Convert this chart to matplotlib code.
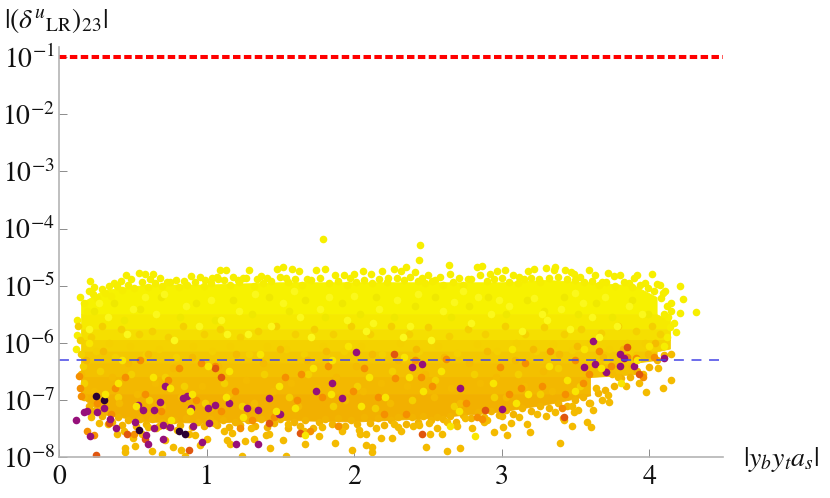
import numpy as np
import matplotlib
matplotlib.use("Agg")
import matplotlib.pyplot as plt

plt.rcParams['font.family'] = ['STIXGeneral', 'DejaVu Serif']
plt.rcParams['mathtext.fontset'] = 'stix'

# Cloud outline (log10 of the y value)
body_x = [0.15, 0.3, 0.6, 1.0, 1.5, 2.0, 2.5, 3.0, 3.3, 3.6, 3.9, 4.05, 4.14]
body_top = [-5.3, -5.08, -4.98, -4.98, -4.94, -4.94, -4.94, -4.94, -4.9, -4.94, -5.0, -5.2, -5.6]
body_bottom = [-6.95, -7.25, -7.38, -7.4, -7.35, -7.38, -7.32, -7.2, -7.08, -6.92, -6.55, -6.3, -6.1]
band_levels = [-4.5, -5.5, -5.75, -5.95, -6.15, -6.35, -6.6, -6.9, -7.5]
band_colors = ['#f7f200', '#f6ea00', '#f5df00', '#f4d200', '#f3c800', '#f3c000', '#f3b800', '#f2b000']

# Points along the top of the cloud
top_x = [.21,.14,.2,.24,.29,.42,.455,.49,.54,.585,.635,.685,.79,.845,.894,.957,1.036,1.088,1.133,1.18,1.29,1.25,1.34,1.477,1.41,
         1.516,1.58,1.627,1.74,1.8,1.87,1.93,2.0,2.06,2.113,2.19,2.27,2.32,2.355,2.41,2.5,2.58,2.65,2.71,2.83,2.87,2.92,2.97,3.02,3.08,3.18,3.216,3.3,3.356,
         3.36,3.43,3.47,3.49,3.59,3.63,3.68,3.72,3.8,3.86,3.92,3.97,4.02,4.05,4.11,4.21,4.23,4.21,4.32,4.18,4.15,4.13,4.17,.125,.12,.115,
         1.79,2.447,2.44,2.64,.34,.37,.62,.73,.99,1.07,1.21,1.37,1.54,1.68,1.97,2.23,2.46,2.55,2.77,3.12,3.25,3.53,3.76,3.9,4.07,4.09]
top_y = [-4.92,-5.2,-5.1,-5.03,-5.05,-4.92,-4.82,-4.89,-4.78,-4.8,-4.8,-4.87,-4.9,-4.92,-4.83,-4.85,-4.87,-4.73,-4.72,-4.85,-4.72,-4.86,-4.89,-4.7,-4.87,
         -4.67,-4.71,-4.74,-4.72,-4.71,-4.82,-4.82,-4.8,-4.74,-4.8,-4.75,-4.71,-4.74,-4.67,-4.76,-4.82,-4.85,-4.8,-4.87,-4.67,-4.66,-4.79,-4.74,-4.73,-4.82,-4.74,-4.71,-4.69,-4.73,
         -4.67,-4.73,-4.76,-4.8,-4.73,-4.82,-4.93,-4.78,-4.82,-4.96,-4.82,-4.95,-4.79,-4.97,-5.09,-5.0,-5.24,-5.47,-5.46,-5.81,-5.3,-5.55,-5.66,-5.6,-5.87,-6.1,
         -4.19,-4.29,-4.55,-4.64,-5.0,-4.95,-4.88,-4.93,-4.9,-4.84,-4.9,-4.83,-4.86,-4.88,-4.87,-4.86,-4.87,-4.9,-4.88,-4.84,-4.88,-4.85,-4.83,-4.86,-4.98,-5.12]

# Second row of points just under the top edge, as (x, log10 y)
crest_pts = [(.17,-5.3),(.19,-5.45),(.23,-5.15),(.26,-5.22),(.31,-5.12),(.35,-5.18),(.39,-5.0),(.43,-5.08),(.47,-4.98),(.51,-5.04),(.56,-4.94),(.6,-5.02),(.65,-4.96),(.7,-5.0),(.75,-4.94),(.81,-5.02),(.87,-4.98),(.92,-4.94),(.98,-5.0),(1.03,-4.96),(1.08,-4.88),(1.12,-4.9),(1.16,-4.98),(1.22,-4.94),(1.27,-4.86),(1.32,-5.0),(1.38,-4.96),(1.44,-4.92),(1.5,-4.84),(1.55,-4.94),(1.6,-4.88),(1.65,-4.98),(1.71,-4.9),(1.77,-4.86),(1.83,-4.96),(1.89,-4.92),(1.95,-4.98),(2.01,-4.94),(2.07,-4.9),(2.12,-4.96),(2.17,-4.88),(2.22,-4.94),(2.29,-4.86),(2.34,-4.9),(2.38,-4.84),(2.43,-4.92),(2.48,-4.96),(2.53,-4.92),(2.6,-4.98),(2.67,-4.94),(2.74,-4.98),(2.79,-4.88),(2.85,-4.82),(2.9,-4.92),(2.95,-4.88),(3.0,-4.86),(3.05,-4.94),(3.11,-4.96),(3.15,-4.88),(3.2,-4.86),(3.26,-4.94),(3.32,-4.86),(3.38,-4.84),(3.44,-4.88),(3.5,-4.9),(3.56,-4.94),(3.61,-4.92),(3.66,-4.98),(3.71,-4.94),(3.77,-5.0),(3.83,-4.94),(3.88,-5.02),(3.94,-4.98),(3.99,-5.04),(4.03,-5.1),(4.08,-5.22),(4.12,-5.35),(4.15,-5.45),(4.1,-5.5),(4.14,-5.72),(4.12,-5.9),(4.1,-6.05)]

# Lighter yellow points in the upper part
light_x = [.2,.27,.33,.46,.58,.66,.78,.86,.95,1.03,1.14,1.22,1.33,1.44,1.52,1.63,1.71,1.83,1.95,2.0,2.08,2.17,2.29,2.38,2.43,2.52,2.6,2.68,2.79,2.84,2.93,3.05,3.14,3.22,3.31,3.4,3.46,3.55,3.61,3.7,3.78,3.86,3.95,.5,.71,1.1,1.28,1.59,1.77,2.13,2.33,2.74,2.98,3.27,3.5,3.66]
light_y = [-5.75,-5.3,-5.55,-5.85,-5.2,-5.5,-5.95,-5.35,-5.7,-5.25,-5.85,-5.45,-5.15,-5.7,-5.3,-5.55,-5.9,-5.2,-5.6,-5.18,-5.8,-5.4,-5.25,-5.7,-5.15,-5.95,-5.45,-5.28,-5.65,-5.2,-5.5,-5.35,-5.8,-5.22,-5.6,-5.4,-5.75,-5.3,-5.55,-5.2,-5.7,-5.35,-5.5,-5.4,-5.15,-5.6,-5.85,-5.1,-5.4,-5.65,-5.9,-5.1,-5.25,-5.5,-5.12,-5.9]

# Gold points in the middle of the cloud, as (x, log10 y)
gold_pts = [(.13,-5.7),(.14,-5.95),(.15,-6.2),(.16,-6.4),(.17,-6.7),(.22,-5.9),(.25,-6.15),(.29,-5.7),(.34,-6.0),(.38,-6.25),(.42,-5.75),(.48,-6.05),(.54,-5.85),(.59,-6.2),(.63,-5.8),(.68,-6.1),(.74,-5.9),(.79,-6.25),(.84,-5.7),(.91,-6.05),(.98,-5.85),(1.04,-6.15),(1.09,-5.75),(1.16,-6.05),(1.23,-5.9),(1.29,-6.2),(1.35,-5.8),(1.41,-6.05),(1.47,-5.7),(1.54,-6.1),(1.6,-5.85),(1.66,-6.2),(1.73,-5.75),(1.79,-6.05),(1.86,-5.85),(1.93,-6.15),(1.98,-5.7),(2.05,-6.05),(2.11,-5.85),(2.19,-6.2),(2.25,-5.7),(2.31,-6.0),(2.37,-5.85),(2.44,-6.15),(2.5,-5.72),(2.57,-6.05),(2.64,-5.88),(2.7,-6.18),(2.77,-5.75),(2.83,-6.02),(2.89,-5.85),(2.97,-6.15),(3.02,-5.7),(3.1,-6.0),(3.16,-5.85),(3.23,-6.15),(3.29,-5.72),(3.35,-6.02),(3.42,-5.85),(3.48,-6.12),(3.54,-5.75),(3.6,-6.0),(3.67,-5.82),(3.73,-6.1),(3.79,-5.7),(3.85,-6.0),(3.91,-5.8),(3.97,-6.0),(4.02,-5.7),(4.07,-5.85),
            (.28,-6.5),(.4,-6.95),(.49,-6.55),(.61,-7.0),(.72,-6.6),(.85,-6.75),(.99,-7.05),(1.12,-6.7),(1.24,-7.1),(1.39,-6.55),(1.56,-6.95),(1.69,-6.55),(1.86,-7.1),(2.02,-6.75),(2.14,-7.15),(2.26,-6.5),(2.39,-7.0),(2.55,-6.65),(2.68,-7.1),(2.81,-6.55),(2.95,-6.95),(3.11,-6.55),(3.26,-6.9),(3.38,-6.45),(3.53,-6.75),(3.71,-6.3),(3.87,-6.15)]

# Greener yellow points in the upper part, as (x, log10 y)
citron_pts = [(.24,-5.45),(.37,-5.3),(.44,-5.6),(.55,-5.4),(.69,-5.2),(.82,-5.55),(.93,-5.3),(1.06,-5.6),(1.18,-5.25),(1.31,-5.5),(1.42,-5.2),(1.56,-5.45),(1.67,-5.25),(1.8,-5.55),(1.92,-5.3),(2.04,-5.5),(2.15,-5.2),(2.27,-5.55),(2.41,-5.35),(2.55,-5.2),(2.66,-5.55),(2.78,-5.35),(2.91,-5.2),(3.03,-5.5),(3.17,-5.25),(3.29,-5.45),(3.42,-5.2),(3.52,-5.5),(3.64,-5.3),(3.75,-5.55),(3.88,-5.25),(3.99,-5.5)]

# Amber points
amber_x = [.15,.18,.24,.3,.36,.41,.47,.53,.6,.65,.7,.77,.83,.9,.97,1.02,1.08,1.15,1.2,1.27,1.32,1.38,1.45,1.5,1.57,1.62,1.68,1.75,1.81,1.88,1.94,2.01,2.06,2.12,2.18,2.24,2.3,2.36,2.42,2.48,2.54,2.61,2.66,2.72,2.78,2.85,2.9,2.96,3.03,3.09,3.15,3.21,3.28,3.34,3.39,3.45,3.51,3.57,3.64,3.69,3.75,3.82,3.88,3.93,3.99,4.04,
           .22,.33,.44,.56,.68,.8,.92,1.05,1.17,1.3,1.42,1.55,1.66,1.78,1.9,2.03,2.15,2.27,2.4,2.51,2.63,2.75,2.88,3.0,3.12,3.24,3.36,3.48,3.6,3.72,3.84,3.96,4.06,
           .448,.448,.516,.63,.70,.77,.83,.855,.957,1.24,1.43,1.138,1.16,1.32,1.54,1.668,1.87,1.985,2.12,2.12,2.08,2.08,2.256,2.32,2.515,2.486,2.594,2.63,2.72,2.95,3.035,3.01,3.19,3.397,3.48,3.58,3.605,3.415,3.49,3.62,3.73,3.98,4.09,4.15,4.15,
           .27,.39,.5,.6,.72,.88,1.0,1.12,1.26,1.4,1.52,1.64,1.76,1.92,2.04,2.18,2.3,2.44,2.56,2.7,2.8,2.9,3.06,3.17,3.3,3.42,3.52,3.68,3.79]
amber_y = [-6.55,-6.3,-6.85,-6.15,-6.6,-7.05,-6.35,-6.9,-6.2,-6.7,-7.1,-6.45,-6.95,-6.25,-6.75,-7.15,-6.4,-6.9,-6.2,-6.65,-7.05,-6.35,-6.85,-6.1,-6.7,-7.1,-6.3,-6.8,-6.15,-6.6,-7.0,-6.4,-6.85,-6.2,-6.7,-7.05,-6.3,-6.75,-6.1,-6.55,-6.95,-6.25,-6.8,-7.05,-6.35,-6.7,-6.15,-6.6,-6.95,-6.3,-6.75,-6.1,-6.5,-6.85,-6.2,-6.65,-6.05,-6.45,-6.8,-6.25,-6.55,-6.1,-6.4,-6.7,-6.2,-6.0,
           -7.3,-7.42,-7.55,-7.6,-7.45,-7.52,-7.62,-7.4,-7.58,-7.5,-7.6,-7.42,-7.55,-7.48,-7.45,-7.52,-7.5,-7.42,-7.45,-7.4,-7.38,-7.32,-7.38,-7.28,-7.3,-7.25,-7.22,-7.1,-7.05,-6.92,-6.75,-6.55,-6.45,
           -7.85,-7.91,-7.8,-7.89,-7.94,-7.83,-7.88,-7.98,-7.79,-7.98,-7.85,-7.7,-7.77,-7.69,-7.98,-7.77,-7.76,-7.87,-7.82,-7.92,-7.79,-7.59,-7.67,-7.54,-7.6,-7.82,-7.59,-7.9,-7.85,-7.57,-7.62,-7.48,-7.56,-7.75,-7.45,-7.38,-7.48,-7.31,-7.22,-7.18,-7.04,-6.86,-6.79,-6.65,-6.2,
           -7.4,-7.6,-7.66,-7.48,-7.7,-7.6,-7.68,-7.55,-7.72,-7.62,-7.7,-7.58,-7.64,-7.55,-7.6,-7.66,-7.48,-7.44,-7.5,-7.46,-7.5,-7.36,-7.4,-7.42,-7.28,-7.36,-7.18,-7.0,-6.6]

# Amber points along the bottom edge, as (x, log10 y)
floor_pts = [(.17,-6.95),(.2,-7.1),(.23,-7.2),(.29,-7.28),(.32,-7.2),(.36,-7.38),(.4,-7.3),(.43,-7.44),(.47,-7.36),(.52,-7.46),(.55,-7.34),(.59,-7.42),(.63,-7.33),(.66,-7.5),(.7,-7.38),(.74,-7.46),(.78,-7.35),(.82,-7.44),(.86,-7.32),(.9,-7.48),(.94,-7.38),(.98,-7.46),(1.02,-7.34),(1.07,-7.44),(1.11,-7.36),(1.15,-7.48),(1.19,-7.38),(1.23,-7.44),(1.28,-7.36),(1.33,-7.46),(1.37,-7.34),(1.41,-7.48),(1.46,-7.4),(1.5,-7.34),(1.55,-7.5),(1.59,-7.38),(1.63,-7.46),(1.67,-7.36),(1.72,-7.5),(1.76,-7.38),(1.8,-7.34),(1.85,-7.42),(1.89,-7.32),(1.94,-7.46),(1.98,-7.36),(2.02,-7.42),(2.07,-7.3),(2.11,-7.4),(2.16,-7.32),(2.2,-7.44),(2.25,-7.36),(2.3,-7.3),(2.35,-7.42),(2.39,-7.3),(2.43,-7.38),(2.47,-7.28),(2.52,-7.36),(2.56,-7.3),(2.6,-7.34),(2.65,-7.28),(2.69,-7.38),(2.74,-7.26),(2.79,-7.32),(2.84,-7.22),(2.88,-7.3),(2.93,-7.2),(2.98,-7.26),(3.03,-7.18),(3.08,-7.24),(3.14,-7.14),(3.2,-7.2),(3.26,-7.1),(3.32,-7.15),(3.38,-7.05),(3.44,-7.1),(3.5,-7.0),(3.55,-6.95),(3.59,-7.05),(3.65,-6.88),(3.7,-6.82),(3.76,-6.75),(3.81,-6.62),(3.87,-6.6),(3.92,-6.5),(4.0,-6.42),(4.05,-6.3),(4.1,-6.22)]

# Bright points low in the cloud
yellow_x = [.2,.31,.43,.52,.64,.76,.89,1.01,1.13,1.25,1.36,1.49,1.6,1.72,1.84,1.96,2.1,2.21,2.34,2.47,2.59,2.71,2.82,2.94,3.07,3.18,3.32,3.44,3.56,3.67,3.81,3.92,4.0,.4,.75,1.15,1.47,1.67,2.05,2.37,2.65,3.1,3.5,.9,1.85]
yellow_y = [-6.0,-6.9,-6.3,-7.1,-6.6,-7.35,-7.2,-6.4,-6.95,-7.3,-6.2,-6.75,-7.15,-6.45,-6.9,-6.05,-6.6,-6.95,-6.25,-6.85,-6.5,-7.2,-7.63,-6.7,-6.1,-6.9,-6.4,-6.65,-6.1,-6.45,-6.7,-6.3,-6.05,-6.7,-6.8,-6.5,-7.2,-7.62,-7.1,-6.6,-7.45,-7.05,-6.85,-6.9,-6.3]

# Orange points
orange_x = [.138,.143,.15,.19,.26,.35,.45,.51,.58,.69,.81,.93,1.06,1.1,1.19,1.31,1.46,1.53,1.61,1.7,1.82,1.89,1.99,2.07,2.16,2.28,2.35,2.41,2.53,2.62,2.76,2.87,2.99,3.05,3.16,3.27,3.33,3.43,3.5,3.59,3.66,3.74,3.85,3.91,3.96,4.03,.24,.38,.55,.74,.96,1.23,1.64,1.78,2.2,2.45,2.83,3.13,3.41,3.55,3.7]
orange_y = [-6.58,-6.79,-6.93,-7.55,-7.05,-7.25,-6.6,-7.6,-6.9,-7.2,-6.45,-7.0,-6.4,-7.2,-6.85,-7.35,-7.3,-6.6,-7.0,-7.55,-6.4,-7.45,-6.85,-6.45,-6.95,-6.62,-7.25,-6.3,-6.75,-6.28,-7.05,-7.33,-6.42,-6.9,-6.35,-6.75,-6.15,-6.9,-6.3,-6.55,-6.15,-6.4,-6.25,-6.27,-6.6,-6.25,-7.62,-6.8,-6.3,-6.65,-6.35,-7.5,-6.55,-6.95,-7.25,-6.6,-7.3,-6.8,-7.15,-6.7,-6.5]

# Dark orange points
rust_x = [.249,.34,.46,.58,.88,1.06,1.42,1.63,2.46,2.89,3.42,3.93,2.27,1.1,3.85]
rust_y = [-7.96,-7.4,-7.6,-7.68,-7.88,-6.45,-7.4,-7.58,-7.6,-7.17,-7.3,-6.55,-6.2,-6.6,-6.07]

# Purple points
purple_x = [.115,.17,.19,.21,.26,.305,.387,.346,.538,.566,.647,.72,.685,.84,.894,.867,1.007,1.15,1.06,1.276,1.348,1.42,1.489,.905,.647,.516,.588,.704,.753,1.014,1.2,1.348,.97,.606,.708,
            2.014,2.39,2.458,1.742,2.719,3.0,1.498,1.916,1.848,3.80,3.83,3.80,3.90,3.56,3.62,3.63,3.71,4.10]
purple_y = [-7.35,-7.21,-7.19,-7.63,-7.22,-7.15,-7.5,-7.34,-7.09,-7.18,-7.18,-6.76,-7.03,-6.96,-7.14,-6.93,-7.15,-7.06,-7.09,-7.15,-7.18,-6.96,-7.24,-7.45,-7.49,-7.38,-7.62,-7.68,-7.47,-7.41,-7.77,-7.77,-7.74,-7.77,-7.44,
            -6.16,-6.43,-6.38,-6.85,-6.79,-7.16,-7.24,-6.97,-6.71,-6.2,-6.26,-6.4,-6.41,-6.43,-5.97,-6.37,-6.52,-6.27]

# Darkest points
dark_x = [.249,.305,.81,.855,.545]
dark_y = [-6.94,-7.01,-7.54,-7.59,-7.52]

bound_high = 1e-1
bound_low = 5e-7
x_ticks = [0, 1, 2, 3, 4]
x_labels = ['0', '1', '2', '3', '4']
y_ticks = [1e-8, 1e-7, 1e-6, 1e-5, 1e-4, 1e-3, 1e-2, 1e-1]
y_labels = [r'$\mathrm{10^{-%d}}$' % n for n in [8, 7, 6, 5, 4, 3, 2, 1]]

W, H = 830, 498
fig = plt.figure(figsize=(W / 100, H / 100), dpi=100)
ax = fig.add_axes([59 / W, 1 - 457 / H, (723 - 59) / W, (457 - 47) / H])
ax.set_xlim(0, 4.5)
ax.set_yscale('log')
ax.set_ylim(1e-8, 10 ** (-8 + 410 / 57.1))

gx = np.array(body_x)
gt = np.array(body_top)
gb = np.array(body_bottom)
for i, c in enumerate(band_colors):
    up = np.minimum(gt, band_levels[i])
    lo = np.maximum(gb, band_levels[i + 1])
    ax.fill_between(gx, 10.0 ** lo, 10.0 ** up, where=up >= lo, color=c, lw=0.6, zorder=1)

S = 30
def pts(xs, ys, color, z):
    ax.scatter(xs, 10.0 ** np.array(ys), s=S, color=color, linewidths=0, zorder=z)

def pairs(p, color, z):
    a = np.array(p)
    pts(a[:, 0], a[:, 1], color, z)

pts(top_x, top_y, '#f7ef00', 2)
pairs(crest_pts, '#f6ee00', 2.1)
pairs(floor_pts, '#f2b400', 2.2)
pairs(gold_pts, '#f4d000', 2.3)
pairs(citron_pts, '#efe800', 2.4)
pts(amber_x, amber_y, '#f4bb00', 3)
pts(orange_x, orange_y, '#f58f00', 4)
pts(rust_x, rust_y, '#e0560f', 4.1)
pts(purple_x, purple_y, '#96107a', 4.2)
pts(dark_x, dark_y, '#2a0034', 4.3)
pts(yellow_x, yellow_y, '#f9e600', 4.4)
pts(light_x, light_y, '#fbf81c', 4.5)

ax.plot([0, 4.5], [bound_high, bound_high], color='#ff0000', lw=2.9, dashes=(1.85, 0.85), zorder=5)
ax.plot([0, 4.5], [bound_low, bound_low], color='#4444e6', lw=1.1, dashes=(6.5, 5), zorder=5)

for s in ['top', 'right']:
    ax.spines[s].set_visible(False)
for s in ['left', 'bottom']:
    ax.spines[s].set_color('#b4b4b4')
    ax.spines[s].set_linewidth(1.2)
    ax.spines[s].set_zorder(6)
ax.minorticks_off()
ax.set_xticks(x_ticks)
ax.set_xticklabels(x_labels)
ax.set_yticks(y_ticks)
ax.set_yticklabels(y_labels)
ax.tick_params(axis='both', direction='in', length=5.5, width=0.7, color='#8c8c8c',
               labelsize=20, labelcolor='#111111', pad=3)
ax.tick_params(axis='x', pad=6)

fig.text(4 / W, 1 - 28 / H, r'$|(\delta^{u}{}_{\mathrm{LR}})_{23}|$', fontsize=20, color='#111111')
fig.text(743 / W, 1 - 466 / H, r'$|y_{b}y_{t}a_{s}|$', fontsize=20, color='#111111')

fig.savefig('out.png', dpi=100)
